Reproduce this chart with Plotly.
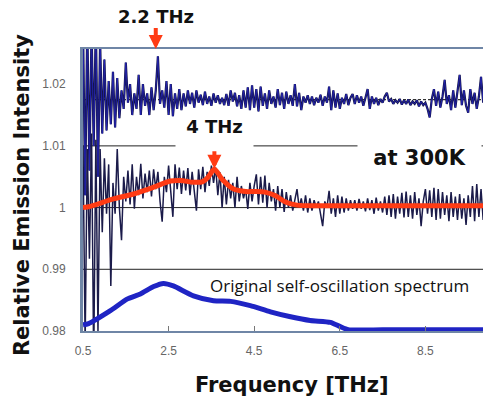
import numpy as np
import plotly.graph_objects as go

# ---------------- data ----------------
# noisy spectra sampled every 0.05 THz starting at 0.5 THz
upper_noisy = [
    1.0300, 1.0020, 1.0300, 1.0060, 1.0290, 1.0100, 1.0300, 1.0050, 1.0270, 1.0120,
    1.0240, 1.0125, 1.0205, 1.0135, 1.0220, 1.0130, 1.0210, 1.0145, 1.0190, 1.0160,
    1.0235, 1.0170, 1.0200, 1.0150, 1.0185, 1.0160, 1.0215, 1.0150, 1.0200, 1.0165,
    1.0185, 1.0150, 1.0195, 1.0158, 1.0190, 1.0245, 1.0168, 1.0190, 1.0162, 1.0205,
    1.0150, 1.0200, 1.0148, 1.0185, 1.0160, 1.0192, 1.0158, 1.0185, 1.0164, 1.0190,
    1.0168, 1.0186, 1.0162, 1.0190, 1.0170, 1.0183, 1.0166, 1.0188, 1.0168, 1.0180,
    1.0165, 1.0185, 1.0170, 1.0182, 1.0168, 1.0178, 1.0166, 1.0184, 1.0165, 1.0190,
    1.0172, 1.0186, 1.0164, 1.0182, 1.0160, 1.0190, 1.0162, 1.0195, 1.0158, 1.0198,
    1.0162, 1.0192, 1.0156, 1.0196, 1.0165, 1.0185, 1.0160, 1.0190, 1.0168, 1.0180,
    1.0162, 1.0192, 1.0166, 1.0186, 1.0160, 1.0188, 1.0168, 1.0182, 1.0165, 1.0200,
    1.0164, 1.0186, 1.0158, 1.0180, 1.0170, 1.0182, 1.0168, 1.0180, 1.0166, 1.0178,
    1.0170, 1.0183, 1.0165, 1.0180, 1.0170, 1.0196, 1.0158, 1.0190, 1.0162, 1.0185,
    1.0160, 1.0178, 1.0168, 1.0184, 1.0166, 1.0178, 1.0184, 1.0168, 1.0182, 1.0170,
    1.0180, 1.0165, 1.0178, 1.0192, 1.0160, 1.0180, 1.0168, 1.0178, 1.0166, 1.0176,
    1.0170, 1.0180, 1.0186, 1.0172, 1.0176, 1.0168, 1.0174, 1.0170, 1.0176, 1.0167,
    1.0174, 1.0168, 1.0175, 1.0166, 1.0172, 1.0168, 1.0174, 1.0164, 1.0172, 1.0166,
    1.0170, 1.0160, 1.0146, 1.0176, 1.0192, 1.0165, 1.0188, 1.0162, 1.0180, 1.0207,
    1.0168, 1.0182, 1.0158, 1.0190, 1.0162, 1.0185, 1.0215, 1.0166, 1.0190, 1.0165,
    1.0154, 1.0192, 1.0168, 1.0186, 1.0160, 1.0180, 1.0212, 1.0170,
]

middle_noisy = [
    1.0100, 0.9780, 1.0095, 0.9917, 1.0120, 0.9750, 1.0110, 0.9800, 1.0095, 0.9960,
    1.0080, 0.9990, 1.0070, 0.9873, 1.0040, 0.9990, 1.0095, 1.0000, 0.9947, 1.0050,
    1.0010, 1.0060, 1.0005, 1.0070, 0.9998, 1.0050, 1.0020, 1.0071, 1.0015, 1.0055,
    1.0025, 1.0060, 1.0018, 1.0062, 1.0030, 1.0058, 1.0010, 0.9977, 1.0050, 1.0025,
    1.0068, 1.0020, 0.9985, 1.0070, 1.0030, 1.0065, 1.0022, 1.0060, 1.0028, 1.0064,
    1.0020, 1.0058, 1.0030, 0.9995, 1.0062, 1.0030, 1.0066, 1.0025, 1.0058, 1.0035,
    1.0068, 1.0040, 1.0065, 1.0020, 1.0057, 1.0000, 1.0050, 1.0005, 1.0045, 1.0015,
    1.0040, 1.0000, 1.0050, 1.0010, 1.0035, 1.0015, 1.0030, 0.9998, 1.0040, 1.0010,
    1.0035, 1.0054, 1.0005, 1.0050, 1.0008, 1.0052, 1.0000, 1.0040, 1.0010, 1.0030,
    0.9995, 1.0035, 1.0000, 1.0030, 0.9993, 1.0025, 1.0000, 1.0020, 0.9995, 1.0015,
    1.0030, 1.0000, 1.0015, 0.9995, 1.0020, 0.9992, 1.0015, 0.9995, 1.0012, 1.0000,
    1.0010, 0.9990, 0.9970, 1.0010, 1.0000, 1.0027, 0.9990, 1.0015, 0.9985, 1.0020,
    0.9990, 1.0018, 0.9992, 1.0015, 0.9995, 1.0012, 0.9998, 1.0012, 0.9995, 1.0014,
    0.9998, 1.0010, 0.9994, 1.0015, 0.9996, 1.0012, 0.9990, 1.0016, 0.9995, 1.0010,
    0.9992, 1.0018, 0.9988, 1.0020, 0.9985, 1.0022, 0.9982, 1.0018, 0.9990, 1.0024,
    0.9984, 1.0026, 0.9985, 1.0020, 0.9982, 1.0025, 0.9988, 1.0015, 0.9970, 1.0010,
    1.0030, 0.9990, 1.0028, 0.9985, 1.0032, 0.9980, 1.0030, 0.9982, 1.0025, 0.9988,
    1.0020, 0.9978, 1.0025, 0.9985, 1.0018, 0.9980, 1.0022, 0.9982, 1.0015, 0.9972,
    1.0020, 0.9985, 1.0035, 0.9978, 1.0038, 0.9985, 1.0030, 0.9980,
]

# smoothed (red) spectrum
smooth_x = [0.5, 0.67, 1.21, 1.68, 2.15, 2.54, 2.78, 3.08, 3.30, 3.42, 3.57, 3.76,
            4.02, 4.30, 4.50, 4.75, 5.00, 5.23, 5.50, 6.00, 7.00, 8.00, 9.00, 9.85]
smooth_y = [1.0000, 1.0002, 1.0014, 1.0022, 1.0033, 1.0043, 1.0044, 1.0041, 1.0042,
            1.0049, 1.0062, 1.0045, 1.0030, 1.0026, 1.0026, 1.0025, 1.0019, 1.0009,
            1.0004, 1.0003, 1.0003, 1.0003, 1.0003, 1.0003]

# original self-oscillation spectrum (blue, scaled)
orig_x = [0.5, 0.63, 1.14, 1.54, 1.84, 2.15, 2.38, 2.61, 3.08, 3.55, 3.95, 4.41,
          4.88, 5.35, 5.81, 6.28, 6.51, 6.70, 7.5, 8.5, 9.85]
orig_y = [0.9810, 0.9812, 0.9833, 0.9852, 0.9860, 0.9872, 0.9877, 0.9873, 0.9857,
          0.9849, 0.9848, 0.9841, 0.9831, 0.9823, 0.9817, 0.9814, 0.9807, 0.9802,
          0.9802, 0.9802, 0.9802]

x_tick_vals = [0.5, 2.5, 4.5, 6.5, 8.5]
y_tick_vals = [0.98, 0.99, 1.0, 1.01, 1.02]
y_tick_text = ["0.98", "0.99", "1", "1.01", "1.02"]
grid_levels = [0.99, 1.0, 1.01]
upper_baseline = 1.0175

x_grid = np.round(0.5 + 0.05 * np.arange(len(upper_noisy)), 2)
x_mid = np.round(0.5 + 0.05 * np.arange(len(middle_noisy)), 2)

RED = "#ff3b14"
NAVY = "#1b1b4a"

fig = go.Figure()
fig.add_trace(go.Scatter(x=x_mid, y=middle_noisy, mode="lines",
                         line=dict(color=NAVY, width=1.5), showlegend=False))
fig.add_trace(go.Scatter(x=x_grid, y=upper_noisy, mode="lines",
                         line=dict(color="#141446", width=2.2), showlegend=False))
fig.add_trace(go.Scatter(x=x_grid, y=upper_noisy, mode="lines",
                         line=dict(color="#2626c0", width=0.8), showlegend=False))
fig.add_trace(go.Scatter(x=smooth_x, y=smooth_y, mode="lines",
                         line=dict(color=RED, width=5, shape="spline", smoothing=0.8),
                         showlegend=False))
fig.add_trace(go.Scatter(x=orig_x, y=orig_y, mode="lines",
                         line=dict(color="#1f24c4", width=5, shape="spline", smoothing=0.6),
                         showlegend=False))

shapes = []
for g in grid_levels:
    shapes.append(dict(type="line", xref="paper", x0=0, x1=1, yref="y", y0=g, y1=g,
                       line=dict(color="#222", width=1), layer="below"))
shapes.append(dict(type="line", xref="paper", x0=0, x1=1, yref="y",
                   y0=upper_baseline, y1=upper_baseline,
                   line=dict(color="#333", width=1.2, dash="3px,2px"), layer="below"))

bold = "DejaVu Sans"
annotations = [
    dict(x=2.2, y=1.0257, xref="x", yref="y", text="<b>2.2 THz</b>", showarrow=True,
         ax=0, ay=-33, arrowhead=2, arrowwidth=4, arrowsize=0.7, arrowcolor=RED,
         font=dict(family=bold, size=18, color="#111")),
    dict(x=3.57, y=1.0063, xref="x", yref="y", text="<b>4 THz</b>", showarrow=True,
         ax=0, ay=-36, arrowhead=2, arrowwidth=4, arrowsize=0.7, arrowcolor=RED,
         bgcolor="white", width=75, height=34, valign="top",
         font=dict(family=bold, size=18, color="#111")),
    dict(x=8.37, y=1.0080, xref="x", yref="y", text="<b>at 300K</b>", showarrow=False,
         bgcolor="white", width=121, height=32,
         font=dict(family=bold, size=21, color="#111")),
    dict(x=6.5, y=0.98734, xref="x", yref="y", text="Original self-oscillation spectrum",
         showarrow=False, font=dict(family="Open Sans", size=17, color="#111")),
    dict(x=0, y=0.482, xref="paper", yref="paper", xshift=-61, xanchor="center",
         yanchor="middle", textangle=-90,
         text="<b>Relative Emission Intensity</b>", showarrow=False,
         font=dict(family=bold, size=21, color="#111")),
    dict(x=0.5225, y=0, xref="paper", yref="paper", yshift=-54, xanchor="center",
         yanchor="middle", text="<b>Frequency [THz]</b>", showarrow=False,
         font=dict(family=bold, size=21, color="#111")),
]

fig.update_layout(
    width=483, height=400,
    margin=dict(l=83, r=0, t=49, b=69),
    paper_bgcolor="white", plot_bgcolor="white",
    showlegend=False,
    shapes=shapes,
    annotations=annotations,
    xaxis=dict(range=[0.5, 9.846], tickvals=x_tick_vals, ticktext=[str(v) for v in x_tick_vals],
               showgrid=False, zeroline=False, showline=True, linecolor="#6f86a6",
               linewidth=2, mirror=True, ticks="inside", ticklen=5, tickcolor="#777",
               tickfont=dict(family="Liberation Sans", size=12, color="#666"),
               ticklabelstandoff=8),
    yaxis=dict(range=[0.98, 1.0257], tickvals=y_tick_vals, ticktext=y_tick_text,
               showgrid=False, zeroline=False, showline=True, linecolor="#6f86a6",
               linewidth=3, ticks="outside", ticklen=12, tickcolor="rgba(0,0,0,0)",
               tickfont=dict(family="Liberation Sans", size=12, color="#666")),
)

fig.write_html("out.html")
